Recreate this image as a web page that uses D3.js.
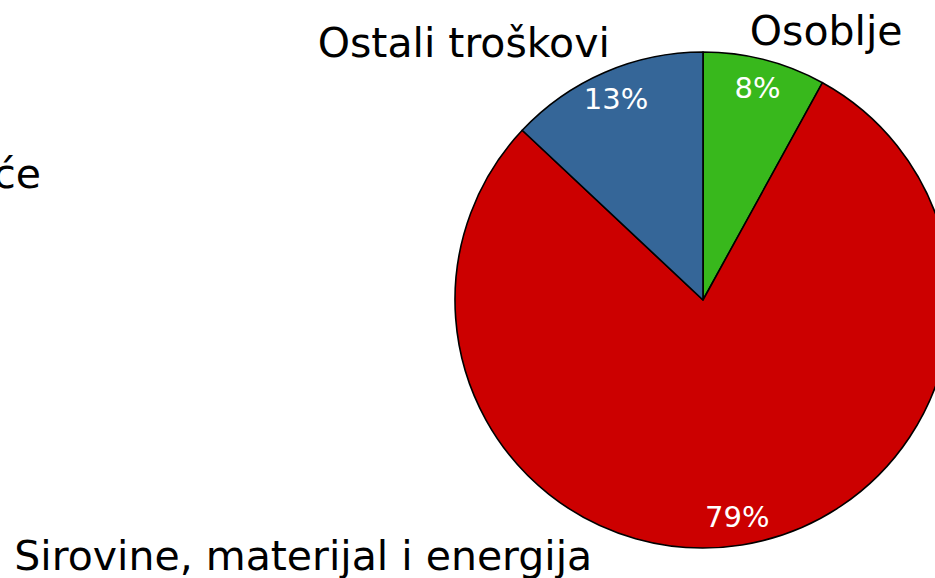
<html>
<head>
<script src="https://d3js.org/d3.v7.min.js"></script>
<style>
  body { margin: 0; background: #fff; }
  text { font-family: "DejaVu Sans", Verdana, sans-serif; }
</style>
</head>
<body>
<div class="chart"></div>
<script>
  // struktura troškova
  const categories = ["Osoblje", "Sirovine, materijal i energija", "Ostali troškovi"];
  const shares = [8, 79, 13];
  const pctLabels = ["8%", "79%", "13%"];
  const colors = ["#38b81c", "#cc0000", "#356698"];
  const titleText = "Poduzeće";

  const width = 935, height = 578;
  const cx = 703, cy = 300, radius = 248;

  const svg = d3.select('.chart')
    .append('svg')
    .attr('width', width)
    .attr('height', height);

  const g = svg.append('g').attr('transform', `translate(${cx},${cy})`);

  const pie = d3.pie().sort(null).value(d => d.v);
  const rows = categories.map((c, i) => ({ name: c, v: shares[i], pct: pctLabels[i], color: colors[i] }));
  const arcs = pie(rows);

  const arc = d3.arc().innerRadius(0).outerRadius(radius);
  const pctArc = d3.arc().innerRadius(219).outerRadius(219);

  g.selectAll('path')
    .data(arcs)
    .join('path')
    .attr('d', arc)
    .attr('fill', d => d.data.color)
    .attr('stroke', '#000')
    .attr('stroke-width', 1.6)
    .attr('stroke-linejoin', 'round');

  g.selectAll('.pct')
    .data(arcs)
    .join('text')
    .attr('class', 'pct')
    .attr('transform', d => `translate(${pctArc.centroid(d)})`)
    .attr('text-anchor', 'middle')
    .attr('dy', '0.36em')
    .attr('fill', '#fff')
    .attr('font-size', 29)
    .text(d => d.data.pct);

  // where the category names sit (angle in degrees from top, distance from centre)
  const nameLayout = [
    { angle: 10.4, r: 259, anchor: 'start' },
    { angle: 202.3, r: 292, anchor: 'end' },
    { angle: 339, r: 260, anchor: 'end' }
  ];

  g.selectAll('.name')
    .data(arcs)
    .join('text')
    .attr('class', 'name')
    .attr('x', (d, i) => nameLayout[i].r * Math.sin(nameLayout[i].angle * Math.PI / 180))
    .attr('y', (d, i) => -nameLayout[i].r * Math.cos(nameLayout[i].angle * Math.PI / 180))
    .attr('text-anchor', (d, i) => nameLayout[i].anchor)
    .attr('font-size', 41)
    .attr('fill', '#000')
    .text(d => d.data.name);

  svg.append('text')
    .attr('x', 41)
    .attr('y', 188)
    .attr('text-anchor', 'end')
    .attr('font-size', 41)
    .text(titleText);
</script>
</body>
</html>
